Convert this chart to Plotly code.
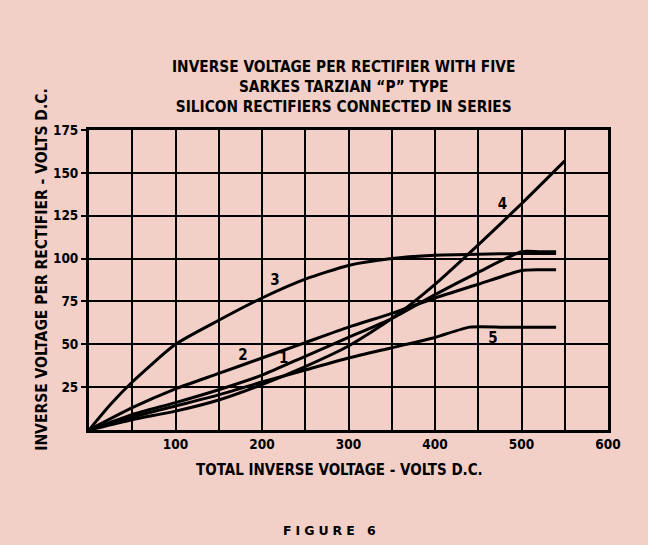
import plotly.graph_objects as go

# ---- data ----
x1 = [0, 50, 100, 150, 200, 250, 300, 350, 400, 450, 500, 520, 540]
y1 = [0, 9, 16, 23.5, 32, 43, 54, 65, 79, 92, 104, 104, 104]

x2 = [0, 50, 100, 150, 200, 250, 300, 350, 400, 450, 500, 520, 540]
y2 = [0, 13, 24, 33, 42, 51, 60, 68, 77, 85, 93, 93.5, 93.5]

x3 = [0, 25, 50, 100, 150, 200, 250, 300, 350, 400, 450, 500, 540]
y3 = [0, 15, 28, 50, 64, 77, 88, 96, 100, 102, 102.5, 103, 103]

x4 = [0, 50, 100, 150, 200, 250, 300, 350, 400, 450, 500, 550]
y4 = [0, 6, 11, 17.5, 26.5, 37, 49, 65, 85, 108, 132, 157]

x5 = [0, 50, 100, 150, 200, 250, 300, 350, 400, 440, 480, 540]
y5 = [0, 7.5, 14, 20.5, 28, 35, 42, 48, 54, 60, 60, 60]

curve_labels = ["1", "2", "3", "4", "5"]
label_x = [225, 178, 215, 478, 467]
label_y = [41, 43, 86.5, 131, 53]

x_tick_vals = [50, 100, 150, 200, 250, 300, 350, 400, 450, 500, 550, 600]
x_tick_text = ["", "100", "", "200", "", "300", "", "400", "", "500", "", "600"]
y_tick_vals = [25, 50, 75, 100, 125, 150, 175]
y_tick_text = ["25", "50", "75", "100", "125", "150", "175"]

title_lines = ["INVERSE VOLTAGE PER RECTIFIER WITH FIVE",
               "SARKES TARZIAN \u201cP\u201d TYPE",
               "SILICON RECTIFIERS CONNECTED IN SERIES"]
x_title = "TOTAL INVERSE VOLTAGE - VOLTS D.C."
y_title = "INVERSE VOLTAGE PER RECTIFIER - VOLTS D.C."
caption = "FIGURE 6"

BG = "#f2d0c8"
FONT = "DejaVu Sans Condensed, Liberation Sans Narrow, Arial Narrow, sans-serif"

fig = go.Figure()
for xs, ys in [(x1, y1), (x2, y2), (x3, y3), (x4, y4), (x5, y5)]:
    fig.add_trace(go.Scatter(x=xs, y=ys, mode="lines",
                             line=dict(color="black", width=3, shape="spline", smoothing=0.6),
                             showlegend=False, hoverinfo="skip"))

fig.add_trace(go.Scatter(x=label_x, y=label_y, mode="text", text=curve_labels,
                         textfont=dict(family=FONT, size=15, color="black", weight="bold"),
                         showlegend=False, hoverinfo="skip"))

fig.update_xaxes(range=[0, 600], tickvals=x_tick_vals, ticktext=x_tick_text,
                 showgrid=True, gridcolor="black", gridwidth=1.8,
                 showline=True, linecolor="black", linewidth=3, mirror=True,
                 zeroline=False, ticks="",
                 tickfont=dict(family=FONT, size=13.5, color="black", weight="bold"))
fig.update_yaxes(range=[0, 175], tickvals=y_tick_vals, ticktext=y_tick_text,
                 showgrid=True, gridcolor="black", gridwidth=1.8,
                 showline=True, linecolor="black", linewidth=3, mirror=True,
                 zeroline=False, ticks="outside", ticklen=5, tickwidth=1.5, tickcolor="black",
                 tickfont=dict(family=FONT, size=13.5, color="black", weight="bold"))

annotations = [
    dict(text="<br>".join(title_lines), xref="paper", yref="paper",
         x=0.49, y=1.142, xanchor="center", yanchor="middle", showarrow=False,
         font=dict(family=FONT, size=15.3, color="black", weight="bold")),
    dict(text=x_title, xref="paper", yref="paper", x=0.482, y=-0.133,
         xanchor="center", yanchor="middle", showarrow=False,
         font=dict(family=FONT, size=15, color="black", weight="bold")),
    dict(text=y_title, xref="paper", yref="paper", x=-0.092, y=0.535,
         xanchor="center", yanchor="middle", showarrow=False, textangle=-90,
         font=dict(family=FONT, size=15.5, color="black", weight="bold")),
    dict(text='<span style="letter-spacing:4px">' + caption + '</span>',
         xref="paper", yref="paper", x=0.468, y=-0.335,
         xanchor="center", yanchor="middle", showarrow=False,
         font=dict(family="DejaVu Sans, sans-serif", size=12.5, color="black", weight="bold")),
]
fig.update_layout(width=648, height=545, autosize=False,
                  margin=dict(l=89, r=40, t=130, b=115),
                  paper_bgcolor=BG, plot_bgcolor=BG,
                  annotations=annotations)

fig.write_html("out.html", config={"displayModeBar": False},
               post_script="document.body.style.margin='0';document.body.style.background='%s';" % BG)
